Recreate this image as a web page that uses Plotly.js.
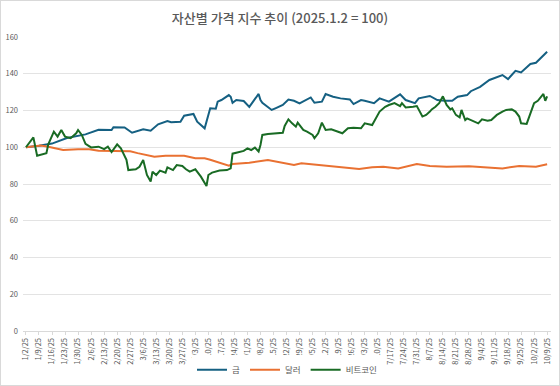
<!DOCTYPE html>
<html>
<head>
<meta charset="utf-8">
<script src="https://cdn.plot.ly/plotly-3.0.1.min.js"></script>
<style>
html,body{margin:0;padding:0;background:#fff;}
#chart{width:558px;height:384px;border:1px solid #d9d9d9;}
</style>
</head>
<body>
<div id="chart"></div>
<script>
// ---- data (index, 2025-01-02 = 100) ----
const seriesNames = ["금", "달러", "비트코인"];

const goldDates = ["2025-01-02","2025-01-06","2025-01-09","2025-01-16","2025-01-24","2025-02-03","2025-02-10","2025-02-17","2025-02-18","2025-02-24","2025-02-28","2025-03-06","2025-03-10","2025-03-14","2025-03-19","2025-03-21","2025-03-26","2025-03-28","2025-04-02","2025-04-04","2025-04-08","2025-04-11","2025-04-14","2025-04-15","2025-04-17","2025-04-21","2025-04-22","2025-04-23","2025-04-25","2025-04-29","2025-05-02","2025-05-07","2025-05-08","2025-05-09","2025-05-14","2025-05-16","2025-05-20","2025-05-23","2025-05-26","2025-05-29","2025-06-02","2025-06-04","2025-06-06","2025-06-10","2025-06-12","2025-06-16","2025-06-20","2025-06-25","2025-06-27","2025-07-01","2025-07-03","2025-07-08","2025-07-11","2025-07-16","2025-07-22","2025-07-25","2025-07-30","2025-08-01","2025-08-07","2025-08-11","2025-08-15","2025-08-19","2025-08-22","2025-08-27","2025-08-29","2025-09-03","2025-09-08","2025-09-15","2025-09-18","2025-09-22","2025-09-25","2025-09-30","2025-10-03","2025-10-09"];
const goldValues = [100,100.3,100.8,102,105,107,109.5,109.4,110.9,110.8,107.9,109.8,109,112.5,114.3,113.6,113.9,117.2,118.1,113.9,110.3,121.2,121,124.8,125.7,128.4,127.5,124.2,125.7,125.2,122,129,125.7,124.2,120.3,121.2,123,126,125.3,123.9,126,127.1,124.2,124.8,129,127.5,126.6,126,123.5,125.7,125.3,124,126.6,124.8,128.8,125.7,124,126.6,127.9,125.7,125.3,125.3,127.5,128.4,130.5,132.9,136.6,139.3,137.1,141.6,140.7,145.3,146,152];

const dollarDates = ["2025-01-02","2025-01-07","2025-01-10","2025-01-14","2025-01-22","2025-01-30","2025-02-05","2025-02-10","2025-02-21","2025-02-27","2025-03-03","2025-03-08","2025-03-12","2025-03-18","2025-03-28","2025-04-03","2025-04-08","2025-04-11","2025-04-21","2025-04-23","2025-05-02","2025-05-12","2025-05-20","2025-05-26","2025-05-30","2025-06-10","2025-06-23","2025-06-30","2025-07-07","2025-07-13","2025-07-21","2025-07-31","2025-08-07","2025-08-16","2025-08-28","2025-09-15","2025-09-24","2025-10-03","2025-10-09"];
const dollarValues = [100,100.5,101,100.3,98.5,98.9,98.9,98.1,97.8,97.8,96.8,95.6,94.8,95.4,95.4,94,94,93.2,90,90.9,91.6,93.1,91.3,90.3,91.3,90.3,89.1,88.2,89.1,89.4,88.5,90.9,89.8,89.4,89.6,88.5,89.8,89.4,90.7];

const btcDates = ["2025-01-02","2025-01-06","2025-01-08","2025-01-13","2025-01-14","2025-01-17","2025-01-19","2025-01-21","2025-01-23","2025-01-26","2025-01-29","2025-01-30","2025-02-01","2025-02-03","2025-02-06","2025-02-10","2025-02-13","2025-02-15","2025-02-17","2025-02-18","2025-02-20","2025-02-22","2025-02-25","2025-02-26","2025-03-02","2025-03-04","2025-03-06","2025-03-08","2025-03-10","2025-03-11","2025-03-13","2025-03-15","2025-03-18","2025-03-19","2025-03-22","2025-03-24","2025-03-27","2025-03-29","2025-03-31","2025-04-03","2025-04-06","2025-04-09","2025-04-10","2025-04-12","2025-04-14","2025-04-16","2025-04-20","2025-04-22","2025-04-23","2025-04-25","2025-04-29","2025-05-01","2025-05-03","2025-05-05","2025-05-07","2025-05-08","2025-05-09","2025-05-12","2025-05-15","2025-05-20","2025-05-21","2025-05-23","2025-05-25","2025-05-27","2025-05-28","2025-05-31","2025-06-02","2025-06-05","2025-06-06","2025-06-08","2025-06-10","2025-06-12","2025-06-15","2025-06-18","2025-06-21","2025-06-24","2025-06-27","2025-07-01","2025-07-03","2025-07-07","2025-07-09","2025-07-11","2025-07-14","2025-07-16","2025-07-19","2025-07-22","2025-07-23","2025-07-25","2025-07-29","2025-07-31","2025-08-03","2025-08-05","2025-08-07","2025-08-08","2025-08-10","2025-08-12","2025-08-14","2025-08-16","2025-08-18","2025-08-19","2025-08-21","2025-08-23","2025-08-24","2025-08-26","2025-08-27","2025-08-29","2025-08-31","2025-09-02","2025-09-04","2025-09-07","2025-09-09","2025-09-12","2025-09-15","2025-09-17","2025-09-20","2025-09-22","2025-09-24","2025-09-25","2025-09-28","2025-09-30","2025-10-02","2025-10-04","2025-10-07","2025-10-08","2025-10-09"];
const btcValues = [100,105.4,95.4,96.7,101.6,108.5,105.8,109.4,105.8,104.9,107.6,109.4,106.7,101.8,99.9,100.3,99,100.3,97.4,99,101.6,99.4,93.1,87.6,88,89.4,93.1,84.9,81.3,86.7,84.9,87.3,86.2,89.1,87.6,90.3,89.8,88,86.7,88,84,78.9,84.9,86.2,86.7,87.3,87.6,88.5,96.5,97.1,98,99.4,98.5,99.8,97.7,101.2,106.7,107.2,107.6,107.9,111.6,115.2,113,111.2,113.4,109.4,108.5,106.7,104.9,107.6,113.4,109.4,109.8,108.5,107.6,110.3,110.6,110.3,113,112.1,115.7,119.4,122,123,124,122.4,124,121.7,122,122.4,116.7,117.6,119.4,120.6,122,124,127.7,123,120.6,121.2,117.6,116.3,120.3,114.8,115.7,114.8,113.9,113,115.2,114.4,114.8,117.6,119.4,120.3,120.6,119.4,116.7,113,112.7,118.5,124,125.3,129,125.3,127.7];

const yTicks = [0,20,40,60,80,100,120,140,160];
const chartTitle = "자산별 가격 지수 추이 (2025.1.2 = 100)";

const colors = ["#156082", "#E97132", "#196B24"];
const font = "'Noto Sans CJK KR', 'Noto Sans', sans-serif";

const traces = [
  {x: goldDates, y: goldValues, name: seriesNames[0]},
  {x: dollarDates, y: dollarValues, name: seriesNames[1]},
  {x: btcDates, y: btcValues, name: seriesNames[2]}
].map((t, i) => Object.assign(t, {
  type: "scatter", mode: "lines",
  line: {color: colors[i], width: 2}
}));

const layout = {
  width: 558, height: 384,
  margin: {l: 22, r: 8, t: 36, b: 54},
  paper_bgcolor: "#ffffff", plot_bgcolor: "#ffffff",
  font: {family: font, color: "#595959", size: 8},
  title: {text: chartTitle, font: {family: font, size: 13, color: "#595959", weight: 500}, x: 0.5, xanchor: "center", y: 0.955, yanchor: "middle"},
  xaxis: {
    type: "date",
    range: ["2024-12-31 10:00", "2025-10-11 02:00"],
    tick0: "2025-01-02", dtick: 7 * 86400000,
    tickformat: "%-m/%-d/%y", tickangle: -90,
    tickfont: {size: 7.5, color: "#595959"},
    showgrid: false, zeroline: false,
    showline: true, linecolor: "#d9d9d9", linewidth: 1,
    ticks: "outside", ticklen: 3, tickcolor: "#d9d9d9",
    automargin: false,
    fixedrange: true
  },
  yaxis: {
    range: [0, 160], tickvals: yTicks,
    tickfont: {size: 7.5, color: "#595959"},
    showgrid: true, gridcolor: "#e3e3e3", gridwidth: 1,
    zeroline: false, showline: false, ticks: "",
    ticklabelstandoff: 4,
    automargin: false,
    fixedrange: true
  },
  showlegend: true,
  legend: {
    orientation: "h", x: 0.5, xanchor: "center",
    yref: "container", y: 0.04, yanchor: "middle",
    font: {size: 8.5, color: "#595959", family: font},
    itemwidth: 30, tracegroupgap: 0
  }
};

Plotly.newPlot("chart", traces, layout, {displayModeBar: false, staticPlot: true});
</script>
</body>
</html>
